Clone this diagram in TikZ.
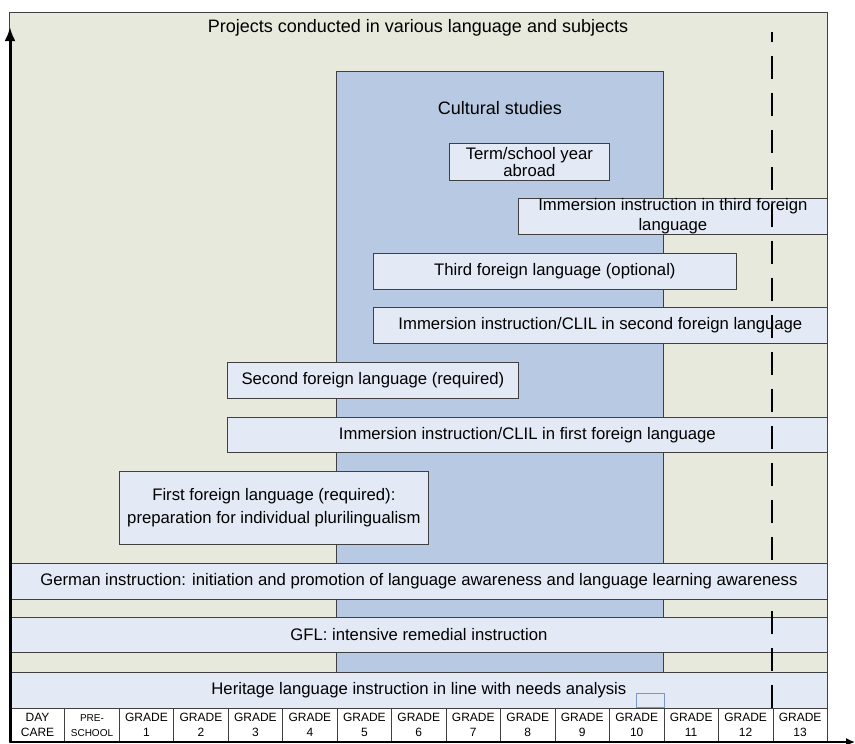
\documentclass[tikz,border=0pt]{standalone}
\usepackage{fontspec}
\setmainfont{Liberation Sans}
\usepackage{tikz}
\usetikzlibrary{arrows.meta}

\definecolor{backfill}{RGB}{232,233,221}
\definecolor{culturefill}{RGB}{184,201,227}
\definecolor{boxfill}{RGB}{228,234,245}
\definecolor{edgegrey}{RGB}{64,64,64}
\definecolor{markblue}{RGB}{120,150,200}

\begin{document}
\begin{tikzpicture}[x=1pt,y=-1pt,
  rowbox/.style={draw=edgegrey, fill=boxfill, line width=0.8pt, inner sep=0pt,
    align=center, anchor=north west, font=\fontsize{16.7}{19}\selectfont},
  gradecell/.style={draw=edgegrey, fill=white, line width=0.6pt, inner sep=0pt,
    align=center, anchor=north west, minimum width=54.47pt, minimum height=34pt,
    font=\fontsize{12}{15}\selectfont}]
\useasboundingbox (0,0) rectangle (855,744);
\node[draw=edgegrey, fill=backfill, inner sep=0pt, anchor=north west, minimum width=818pt, minimum height=730pt] (frame) at (9,12) {};
\node[font=\fontsize{18}{20}\selectfont] (title) at (418,28) {Projects conducted in various language and subjects};
\node[draw=edgegrey, fill=culturefill, inner sep=0pt, anchor=north west, minimum width=327pt, minimum height=601pt] (culture) at (336,71) {};
\node[font=\fontsize{18}{20}\selectfont] (culturetitle) at (500,108) {Cultural studies};
\node[rowbox, minimum width=160pt, minimum height=37pt, font=\fontsize{16.7}{17}\selectfont] (abroad) at (449,143) {Term/school year\\abroad};
\node[rowbox, minimum width=309pt, minimum height=36pt, font=\fontsize{16.7}{20}\selectfont] (immthree) at (518,198) {Immersion instruction in third foreign\\language};
\node[rowbox, minimum width=363pt, minimum height=36pt] (third) at (373,253) {Third foreign language (optional)};
\node[rowbox, minimum width=454pt, minimum height=36pt] (cliltwo) at (373,307) {Immersion instruction/CLIL in second foreign language};
\node[rowbox, minimum width=291pt, minimum height=36pt] (second) at (227,362) {Second foreign language (required)};
\node[rowbox, minimum width=600pt, minimum height=35pt] (clilone) at (227,417) {Immersion instruction/CLIL in first foreign language};
\node[rowbox, minimum width=309pt, minimum height=73pt, font=\fontsize{16.7}{23}\selectfont] (first) at (119,471) {First foreign language (required):\\preparation for individual plurilingualism};
\node[rowbox, minimum width=817pt, minimum height=35pt] (gfl) at (10,617) {GFL: intensive remedial instruction};
\node[rowbox, minimum width=817pt, minimum height=36pt] (heritage) at (10,672) {Heritage language instruction in line with needs analysis};
% grades
\node[gradecell] (g0) at (10,708) {DAY\\CARE};
\node[gradecell, font=\fontsize{10}{15}\selectfont] (g1) at (64.47,708) {PRE-\\SCHOOL};
\foreach \n in {1,...,13}
  \node[gradecell] (grade\n) at ({10+54.47*(\n+1)},708) {GRADE\\\n};
\node[draw=markblue, line width=0.6pt, inner sep=0pt, anchor=south west, minimum width=28pt, minimum height=14pt] (mark) at (636,708) {};
% dashed limit
\coordinate (dashbot) at (772,708);
\coordinate (dashtop) at (772,32);
\draw[line width=1.8pt, dash pattern=on 23pt off 14pt] (dashbot) -- (dashtop);
\node[rowbox, minimum width=817pt, minimum height=36pt] (german) at (10,563) {German instruction: initiation and promotion of language awareness and language learning awareness};
% axes
\coordinate (origin) at (10,742);
\coordinate (ytip) at (10,27);
\coordinate (xtip) at (855,742);
\draw[line width=3pt, -{Latex[length=14pt,width=11pt]}] (origin) -- (ytip);
\draw[line width=1.5pt, -{Latex[length=9pt,width=8pt]}] (origin) -- (xtip);
\end{tikzpicture}
\end{document}
